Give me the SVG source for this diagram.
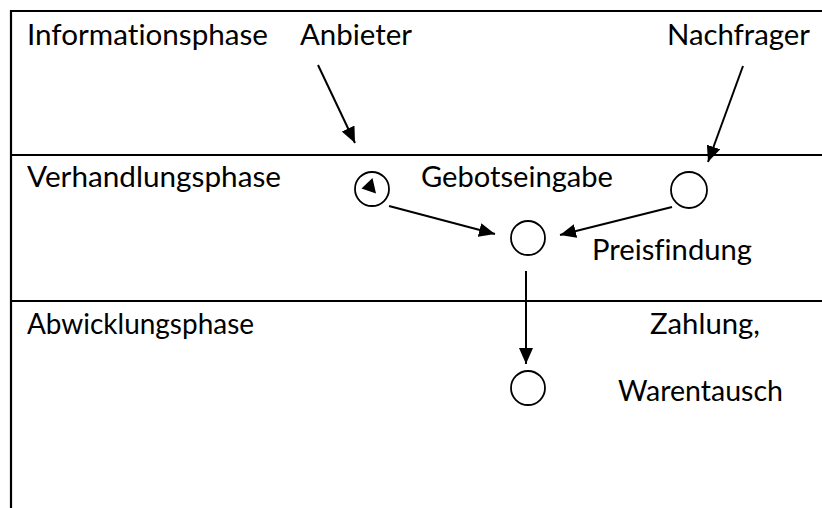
<svg xmlns="http://www.w3.org/2000/svg" width="822" height="508" viewBox="0 0 822 508">
<style>
.lbl{font-family:Lato,"Open Sans","Liberation Sans",sans-serif;font-size:29px;fill:#000;font-variant-ligatures:none;font-feature-settings:"liga" 0,"dlig" 0}
.frame{stroke:#000;stroke-width:2.2;fill:none}
.node{fill:#fff;stroke:#000;stroke-width:1.8}
.conn{stroke:#000;stroke-width:2;fill:none;marker-end:url(#ah)}
</style>
<defs>
<marker id="ah" markerUnits="userSpaceOnUse" markerWidth="16" markerHeight="14" refX="16" refY="7" orient="auto">
<path d="M0,0 L16,7 L0,14 Z" fill="#000"/>
</marker>
</defs>
<rect width="822" height="508" fill="#fff"/>
<g id="frame">
<path class="frame" d="M11,508 V11 H822 M11,155 H822 M11,301 H822"/>
</g>
<g id="phases">
<text class="lbl" x="27" y="45" textLength="241" lengthAdjust="spacingAndGlyphs">Informationsphase</text>
<text class="lbl" x="27" y="187" textLength="254" lengthAdjust="spacingAndGlyphs">Verhandlungsphase</text>
<text class="lbl" x="27" y="334" textLength="227" lengthAdjust="spacingAndGlyphs">Abwicklungsphase</text>
</g>
<g id="anbieter-label"><text class="lbl" x="300" y="45" textLength="112" lengthAdjust="spacingAndGlyphs">Anbieter</text></g>
<g id="nachfrager-label"><text class="lbl" x="667" y="45" textLength="143" lengthAdjust="spacingAndGlyphs">Nachfrager</text></g>
<g id="anbieter-node">
<circle class="node" cx="372" cy="189" r="17"/>
<polygon points="361.5,188.5 372.5,178 376,193.5" fill="#000"/>
</g>
<g id="gebotseingabe"><text class="lbl" x="421" y="187" textLength="192" lengthAdjust="spacingAndGlyphs">Gebotseingabe</text></g>
<g id="nachfrager-node"><circle class="node" cx="689" cy="190" r="18"/></g>
<g id="preisfindung-node">
<circle class="node" cx="528" cy="238" r="17"/>
<text class="lbl" x="592" y="260" textLength="160" lengthAdjust="spacingAndGlyphs">Preisfindung</text>
</g>
<g id="abwicklung-node">
<circle class="node" cx="528" cy="388" r="17"/>
<text class="lbl" x="650" y="334" textLength="110" lengthAdjust="spacingAndGlyphs">Zahlung,</text>
<text class="lbl" x="618" y="401" textLength="165" lengthAdjust="spacingAndGlyphs">Warentausch</text>
</g>
<g id="connectors">
<line class="conn" x1="318" y1="65" x2="355" y2="143"/>
<line class="conn" x1="743" y1="66" x2="708" y2="162"/>
<line class="conn" x1="389" y1="206" x2="495" y2="234"/>
<line class="conn" x1="672" y1="207" x2="560" y2="235"/>
<line class="conn" x1="526" y1="271" x2="526" y2="364"/>
</g>
</svg>
